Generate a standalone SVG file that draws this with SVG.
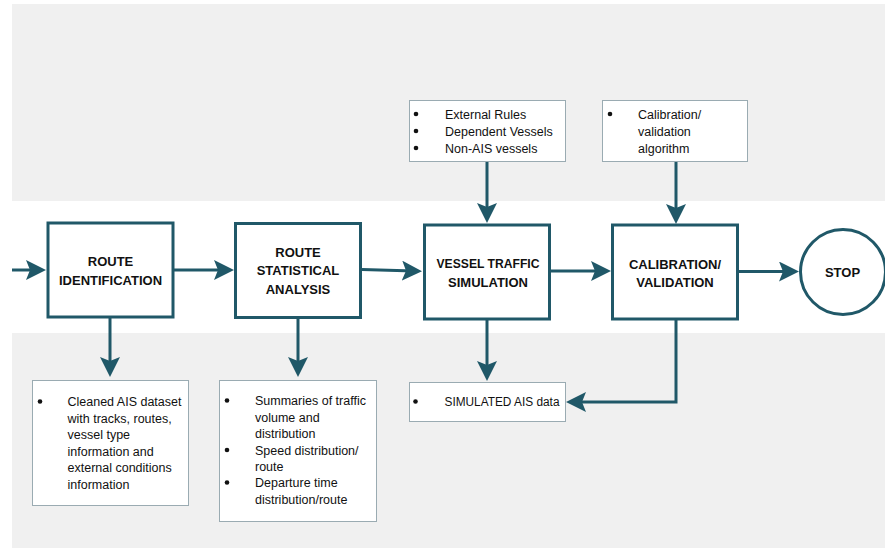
<svg xmlns="http://www.w3.org/2000/svg" width="885" height="548" viewBox="0 0 885 548">
  <style>
    .proc { fill: #ffffff; stroke: #205868; stroke-width: 3; }
    .note { fill: #ffffff; stroke: #9aabb2; stroke-width: 1; }
    .title { font-family: "Liberation Sans", Arial, sans-serif; font-weight: bold; font-size: 13px; fill: #111111; text-anchor: middle; }
    .body { font-family: "Liberation Sans", Arial, sans-serif; font-size: 12.5px; fill: #111111; }
    .bullet { fill: #111111; }
    .flow { fill: none; stroke: #205868; stroke-width: 3; }
  </style>
  <defs>
    <marker id="head" viewBox="0 0 20 20" refX="12" refY="10" markerWidth="20" markerHeight="20" markerUnits="userSpaceOnUse" orient="auto">
      <path d="M0,0 L20,10 L0,20 L4,10 z" fill="#205868"/>
    </marker>
  </defs>

  <!-- background bands -->
  <rect x="12" y="4" width="873" height="544" fill="#f0f0f0"/>
  <rect x="0" y="201" width="885" height="132" fill="#ffffff"/>

  <!-- connectors -->
  <g id="connectors">
    <path class="flow" d="M12,270 L38,270" marker-end="url(#head)"/>
    <path class="flow" d="M174,270 L226,270" marker-end="url(#head)"/>
    <path class="flow" d="M362,269.5 L414,271" marker-end="url(#head)"/>
    <path class="flow" d="M550,271 L603,271" marker-end="url(#head)"/>
    <path class="flow" d="M739,271.5 L791,271.5" marker-end="url(#head)"/>
    <path class="flow" d="M487,162 L487,215" marker-end="url(#head)"/>
    <path class="flow" d="M676,162 L676,216" marker-end="url(#head)"/>
    <path class="flow" d="M110,318 L110,369" marker-end="url(#head)"/>
    <path class="flow" d="M298,318 L298,369" marker-end="url(#head)"/>
    <path class="flow" d="M487,320 L487,373" marker-end="url(#head)"/>
    <path class="flow" d="M676,320 L676,402 L574,402" marker-end="url(#head)"/>
  </g>

  <!-- process steps -->
  <g id="route-identification">
    <rect class="proc" x="48" y="223" width="125" height="94"/>
    <text class="title" x="110.5" y="266">ROUTE</text>
    <text class="title" x="110.5" y="284.5">IDENTIFICATION</text>
  </g>
  <g id="route-statistical-analysis">
    <rect class="proc" x="235.5" y="223.5" width="125" height="94"/>
    <text class="title" x="298" y="256.5">ROUTE</text>
    <text class="title" x="298" y="275">STATISTICAL</text>
    <text class="title" x="298" y="293.5">ANALYSIS</text>
  </g>
  <g id="vessel-traffic-simulation">
    <rect class="proc" x="424.5" y="225" width="125" height="94"/>
    <text class="title" x="488" y="268" textLength="103" lengthAdjust="spacingAndGlyphs">VESSEL TRAFFIC</text>
    <text class="title" x="488" y="286.5">SIMULATION</text>
  </g>
  <g id="calibration-validation">
    <rect class="proc" x="612.5" y="225" width="125" height="94"/>
    <text class="title" x="675" y="268.5">CALIBRATION/</text>
    <text class="title" x="675" y="287">VALIDATION</text>
  </g>
  <g id="stop">
    <circle class="proc" cx="843" cy="272" r="42.5"/>
    <text class="title" x="842.5" y="276.5">STOP</text>
  </g>

  <!-- input notes -->
  <g id="simulation-inputs">
    <rect class="note" x="409.5" y="100.5" width="156" height="61"/>
    <circle class="bullet" cx="416" cy="114" r="2.3"/>
    <circle class="bullet" cx="416" cy="131" r="2.3"/>
    <circle class="bullet" cx="416" cy="148" r="2.3"/>
    <text class="body" x="445" y="118.5">External Rules</text>
    <text class="body" x="445" y="135.5">Dependent Vessels</text>
    <text class="body" x="445" y="152.5">Non-AIS vessels</text>
  </g>
  <g id="calibration-inputs">
    <rect class="note" x="602.5" y="100.5" width="145" height="61"/>
    <circle class="bullet" cx="610" cy="114" r="2.3"/>
    <text class="body" x="638" y="118.5">Calibration/</text>
    <text class="body" x="638" y="135.5">validation</text>
    <text class="body" x="638" y="152.5">algorithm</text>
  </g>

  <!-- output notes -->
  <g id="identification-output">
    <rect class="note" x="32.5" y="380.5" width="156" height="125"/>
    <circle class="bullet" cx="40" cy="401.5" r="2.3"/>
    <text class="body" x="67.5" y="406">Cleaned AIS dataset</text>
    <text class="body" x="67.5" y="422.5">with tracks, routes,</text>
    <text class="body" x="67.5" y="439">vessel type</text>
    <text class="body" x="67.5" y="455.5">information and</text>
    <text class="body" x="67.5" y="472">external conditions</text>
    <text class="body" x="67.5" y="488.5">information</text>
  </g>
  <g id="statistics-output">
    <rect class="note" x="219.5" y="380.5" width="157" height="141"/>
    <circle class="bullet" cx="227" cy="400.5" r="2.3"/>
    <circle class="bullet" cx="227" cy="450" r="2.3"/>
    <circle class="bullet" cx="227" cy="482.5" r="2.3"/>
    <text class="body" x="255" y="405">Summaries of traffic</text>
    <text class="body" x="255" y="421.5">volume and</text>
    <text class="body" x="255" y="438">distribution</text>
    <text class="body" x="255" y="454.5">Speed distribution/</text>
    <text class="body" x="255" y="471">route</text>
    <text class="body" x="255" y="487">Departure time</text>
    <text class="body" x="255" y="503.5">distribution/route</text>
  </g>
  <g id="simulated-data">
    <rect class="note" x="409.5" y="382.5" width="156" height="39"/>
    <circle class="bullet" cx="415.5" cy="401.5" r="2.3"/>
    <text class="body" x="444.5" y="405.5" textLength="115" lengthAdjust="spacingAndGlyphs">SIMULATED AIS data</text>
  </g>
</svg>
